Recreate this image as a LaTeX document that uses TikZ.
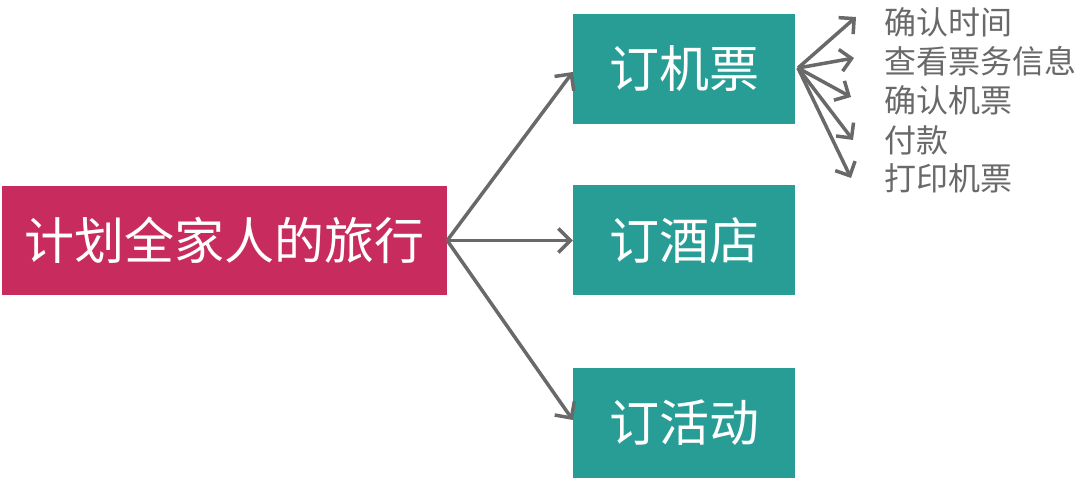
\documentclass[tikz,border=0pt]{standalone}
\usepackage{fontspec}
\setmainfont{Noto Sans CJK SC}
\usetikzlibrary{arrows.meta}
\definecolor{pinkbox}{RGB}{200,44,94}
\definecolor{tealbox}{RGB}{40,157,150}
\definecolor{arrowgray}{RGB}{105,105,105}
\definecolor{textgray}{RGB}{105,105,105}
\tikzset{
  mainbox/.style={rectangle, fill=pinkbox, text=white, inner sep=0pt, minimum width=445pt, minimum height=109pt, font=\fontsize{50pt}{54pt}\selectfont},
  subbox/.style={rectangle, fill=tealbox, text=white, inner sep=0pt, minimum width=222pt, minimum height=110pt, font=\fontsize{50pt}{54pt}\selectfont},
  leaf/.style={anchor=west, inner sep=0pt, text=textgray, font=\fontsize{32pt}{34pt}\selectfont},
  bigarrow/.style={draw=arrowgray, line width=3.5pt, -{Straight Barb[length=12pt,width=24pt,line width=3.5pt]}},
  smallarrow/.style={draw=arrowgray, line width=3.5pt, -{Straight Barb[length=11pt,width=22pt,line width=3.5pt]}},
}
\begin{document}
\begin{tikzpicture}[x=1pt,y=-1pt]
\useasboundingbox (0,0) rectangle (1080,481);
\node[mainbox] (plan) at (224.5,240.5) {计划全家人的旅行};
\node[subbox] (ticket) at (684,69) {订机票};
\node[subbox] (hotel) at (684,240.5) {订酒店};
\node[subbox] (act) at (684,423) {订活动};
\node[leaf] (l1) at (884,22) {确认时间};
\node[leaf] (l2) at (884,61) {查看票务信息};
\node[leaf] (l3) at (884,100) {确认机票};
\node[leaf] (l4) at (884,140) {付款};
\node[leaf] (l5) at (884,178) {打印机票};
\coordinate (src) at (798,68);
\coordinate (t1) at (856,17);
\coordinate (t2) at (854,58);
\coordinate (t3) at (851,97);
\coordinate (t4) at (853,140);
\coordinate (t5) at (851,178);
\draw[bigarrow] (plan.east) -- (ticket.west |- 0,72);
\draw[bigarrow] (plan.east) -- (hotel.west);
\draw[bigarrow] (plan.east) -- (act.west |- 0,420);
\foreach \t in {t1,t2,t3,t4,t5} \draw[smallarrow] (src) -- (\t);
\end{tikzpicture}
\end{document}
